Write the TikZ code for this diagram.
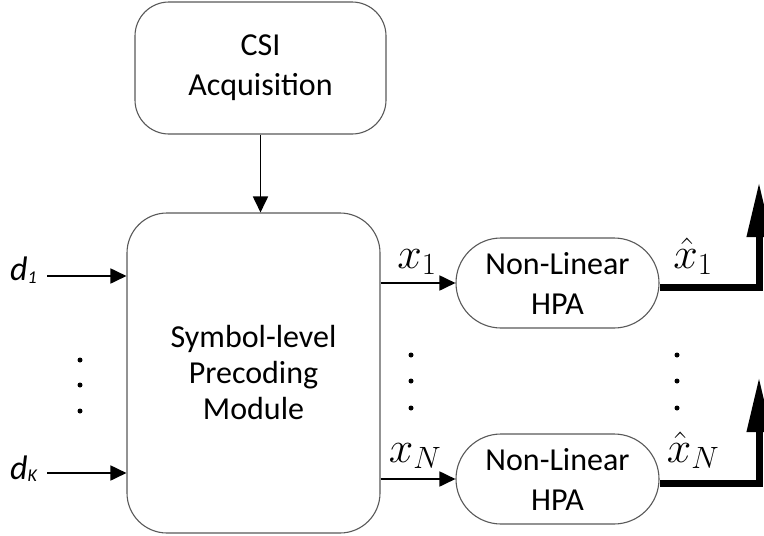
\documentclass[tikz,border=0pt]{standalone}
\usepackage{fix-cm}
\usepackage{fontspec}
\setmainfont{Carlito}
\usetikzlibrary{arrows.meta}
\begin{document}
\begin{tikzpicture}[x=1pt,y=-1pt,
  box/.style={draw=black!65,line width=1.1pt,fill=white,align=center,inner sep=0pt,
    font=\fontsize{32}{40}\selectfont},
  thinarrow/.style={line width=1.8pt,-{Triangle[length=16pt,width=15pt]}},
  thickarrow/.style={line width=7pt,-{Triangle[length=55pt,width=23pt]}},
  mlabel/.style={anchor=base,inner sep=0pt,font=\fontsize{44}{46}\selectfont},
  dlabel/.style={anchor=base west,inner sep=0pt,font=\fontsize{34}{36}\selectfont\itshape},
  vdot/.style={circle,fill=black,inner sep=0pt,minimum size=5pt}]
\useasboundingbox (0,0) rectangle (764,536);
% boxes
\node[box,rounded corners=34pt,minimum width=251pt,minimum height=132pt] (csi) at (260.5,68) {CSI\\Acquisition};
\node[box,rounded corners=40pt,minimum width=253pt,minimum height=320pt,
  font=\fontsize{32}{36}\selectfont] (spm) at (253.5,373) {Symbol-level\\Precoding\\Module};
\node[box,rounded corners=45pt,minimum width=203pt,minimum height=90pt] (hpa1) at (557.5,283) {Non-Linear\\HPA};
\node[box,rounded corners=45pt,minimum width=203pt,minimum height=90pt] (hpaN) at (557.5,479) {Non-Linear\\HPA};
% csi to module
\draw[thinarrow] (csi.south) -- (csi.south |- spm.north);
% inputs
\coordinate (in1) at (47,276);
\coordinate (inK) at (47,473);
\draw[thinarrow] (in1) -- (in1 -| spm.west);
\draw[thinarrow] (inK) -- (inK -| spm.west);
\node[dlabel] (d1) at (10,280) {d\raisebox{-3pt}{\fontsize{18}{18}\selectfont 1}};
\node[dlabel] (dK) at (10,479) {d\raisebox{-2pt}{\fontsize{18}{18}\selectfont K}};
% outputs of module
\draw[thinarrow] (spm.east |- hpa1.west) -- (hpa1.west);
\draw[thinarrow] (spm.east |- hpaN.west) -- (hpaN.west);
\node[mlabel] (x1) at (417,268) {$x_1$};
\node[mlabel] (xN) at (415,462) {$x_N$};
% thick outputs
\coordinate (t1) at (759,182);
\coordinate (tN) at (759,377);
\draw[thickarrow] ([yshift=-4pt]hpa1.east) -| (t1);
\draw[thickarrow] ([yshift=-4pt]hpaN.east) -| (tN);
\node[mlabel] (xh1) at (693,268) {$\hat{x}_1$};
\node[mlabel] (xhN) at (693,462) {$\hat{x}_N$};
% dots
\foreach \y [count=\i] in {360,385,411} \node[vdot] (la\i) at (80,\y) {};
\foreach \y [count=\i] in {355,381,408} \node[vdot] (ma\i) at (411,\y) {};
\foreach \y [count=\i] in {355,381,408} \node[vdot] (ra\i) at (677,\y) {};
\end{tikzpicture}
\end{document}
